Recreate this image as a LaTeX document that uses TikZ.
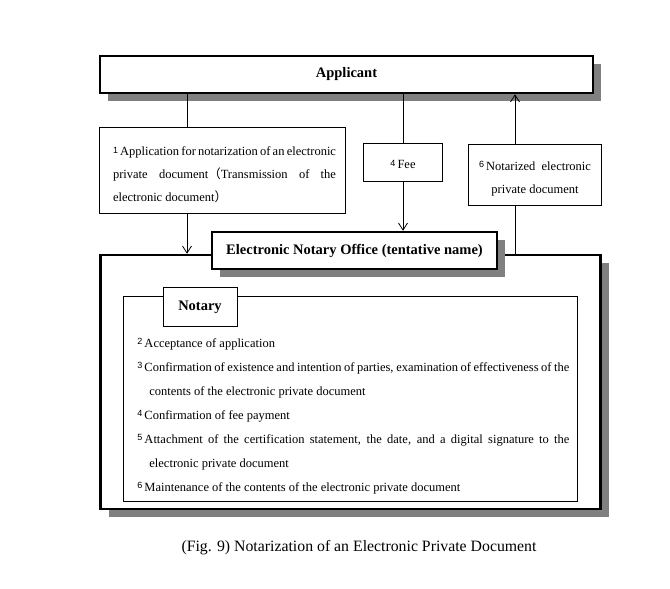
\documentclass[tikz,border=0pt]{standalone}
\usepackage{fontspec}
\setmainfont{Liberation Serif}
\setsansfont{Liberation Sans}
\newfontfamily\cjk{Noto Sans CJK JP}
\usetikzlibrary{arrows.meta,shadows}
\definecolor{shadowgray}{RGB}{128,128,128}
\hyphenpenalty=10000
\exhyphenpenalty=10000
\newcommand\stepno[1]{\raisebox{.5ex}{\sffamily\fontsize{9}{9}\selectfont #1}\,}
\newcommand\task[2]{\hangindent=12pt\hangafter=1\noindent\stepno{#1}#2\par}
\begin{document}
\begin{tikzpicture}[x=1pt,y=-1pt,line join=miter,>={Straight Barb[length=7pt,width=9pt]},line width=.8pt]
            \tikzset{box/.style={draw,fill=white,inner sep=0pt,line width=.8pt},
                bigbox/.style={box,line width=2.5pt,drop shadow={shadow xshift=8pt,shadow yshift=-8pt,fill=shadowgray,opacity=1}},
                title/.style={font=\bfseries\fontsize{14.5}{17}\selectfont},
                body/.style={inner sep=0pt,font=\fontsize{12.5}{23}\selectfont}}
            \def \xapp{187}
            \def \xdoc{515}
            \useasboundingbox (0,0) rectangle (670,589);
            \node[bigbox,minimum width=493,minimum height=37,title] (app) at (346.5,74.5) {Applicant};
            \node[box,minimum width=246,minimum height=86] (request) at (222.5,170.5) {};
            \node[body,text width=223,align=justify] (requesttext) at (224.5,175)
                {\stepno{1}Application for notarization of an electronic private document{\cjk （}Transmission of the electronic document{\cjk ）}};
            \node[box,minimum width=79,minimum height=38] (fee) at (403,162.5) {};
            \node[body] (feetext) at (403,164.5) {\stepno{4}Fee};
            \node[box,minimum width=133,minimum height=61] (result) at (535,175) {};
            \node[body,align=center] (resulttext) at (535,179) {\stepno{6}Notarized~ electronic\\private document};
            \node[bigbox,minimum width=500,minimum height=254] (office) at (350.5,382) {};
            \node[box,minimum width=454,minimum height=205] (inner) at (350.5,399) {};
            \node[box,minimum width=74,minimum height=39,title] (notary) at (200,307) {Notary};
            \node[bigbox,minimum width=285,minimum height=37,title] (name) at (354.5,250.5) {Electronic Notary Office (tentative name)};
            \node[anchor=north west,text width=432,align=justify,inner sep=0pt,font=\fontsize{12.5}{24}\selectfont] (tasks) at (137,337.5) {%
                \task{2}{Acceptance of application}
                \task{3}{Confirmation of existence and intention of parties, examination of effectiveness of the contents of the electronic private document}
                \task{4}{Confirmation of fee payment}
                \task{5}{Attachment of the certification statement, the date, and a digital signature to the electronic private document}
                \task{6}{Maintenance of the contents of the electronic private document}};
            \node[font=\fontsize{15.8}{18}\selectfont] (caption) at (359,548) {(Fig. 9) Notarization of an Electronic Private Document};
            \coordinate (a1) at (\xapp,0);
            \coordinate (a6) at (\xdoc,0);
            \draw (a1 |- app.south) -- (a1 |- request.north);
            \draw[->] (a1 |- request.south) -- (a1 |- office.north);
            \draw (fee.north) -- (fee.north |- app.south);
            \draw[->] (fee.south) -- (fee.south |- name.north);
            \draw (a6 |- office.north) -- (a6 |- result.south);
            \draw[->] (a6 |- result.north) -- (a6 |- app.south);
        \end{tikzpicture}
\end{document}
